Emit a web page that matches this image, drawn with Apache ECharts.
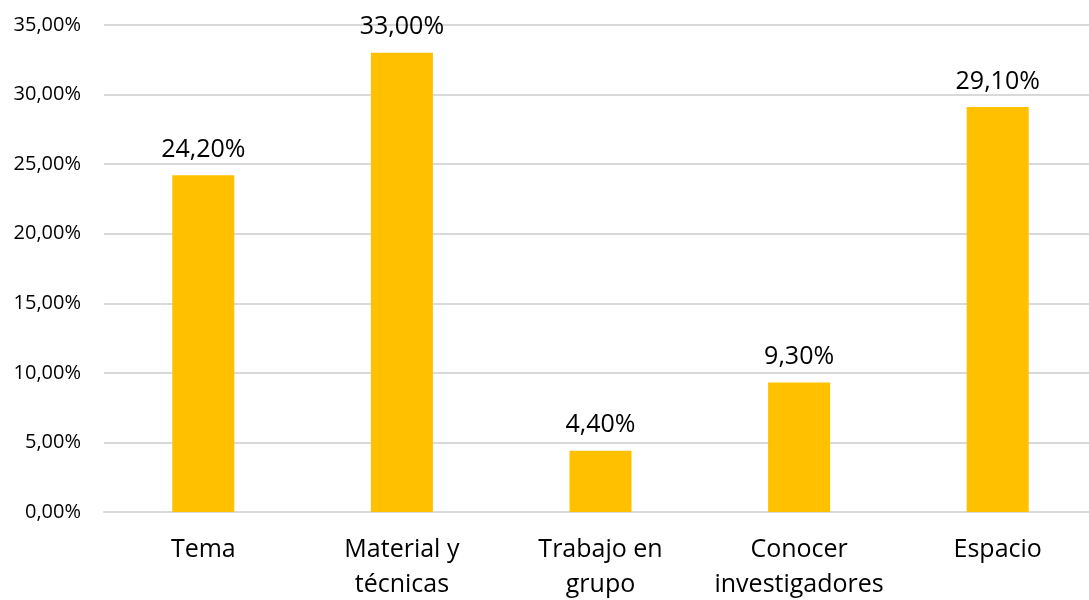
<!DOCTYPE html>
<html>
<head>
<meta charset="utf-8">
<script src="https://cdn.jsdelivr.net/npm/echarts@6/dist/echarts.min.js"></script>
<style>
  html, body { margin: 0; padding: 0; background: #ffffff; }
  #chart { width: 1089px; height: 600px; }
</style>
</head>
<body>
<div id="chart"></div>
<script>
// Motivos señalados (porcentaje de respuestas)
const categories = ['Tema', 'Material y\ntécnicas', 'Trabajo en\ngrupo', 'Conocer\ninvestigadores', 'Espacio'];
const values = [24.2, 33.0, 4.4, 9.3, 29.1];
const yTicks = { min: 0, max: 35, interval: 5 };

const FONT = '"Open Sans", sans-serif';
const pct = v => v.toFixed(2).replace('.', ',') + '%';

const chart = echarts.init(document.getElementById('chart'), null, { renderer: 'canvas' });
chart.setOption({
  animation: false,
  backgroundColor: '#ffffff',
  grid: { left: 104, width: 993, top: 25, height: 487, outerBoundsMode: 'none', containLabel: false },
  xAxis: {
    type: 'category',
    data: categories,
    axisTick: { show: false },
    axisLine: { show: true, lineStyle: { color: '#d9d9d9', width: 2 } },
    axisLabel: {
      color: '#000000', fontFamily: FONT, fontSize: 25, lineHeight: 35, margin: 20,
      interval: 0
    }
  },
  yAxis: {
    type: 'value',
    min: yTicks.min, max: yTicks.max, interval: yTicks.interval,
    axisLine: { show: false },
    axisTick: { show: false },
    splitLine: { lineStyle: { color: '#d9d9d9', width: 2 } },
    axisLabel: {
      color: '#000000', fontFamily: FONT, fontSize: 20, margin: 23,
      formatter: v => pct(v)
    }
  },
  series: [{
    type: 'bar',
    data: values,
    barWidth: 62,
    itemStyle: { color: '#ffc000' },
    label: {
      show: true, position: 'top', distance: 13,
      color: '#000000', fontFamily: FONT, fontSize: 25,
      formatter: p => pct(p.value)
    }
  }]
});
</script>
</body>
</html>
